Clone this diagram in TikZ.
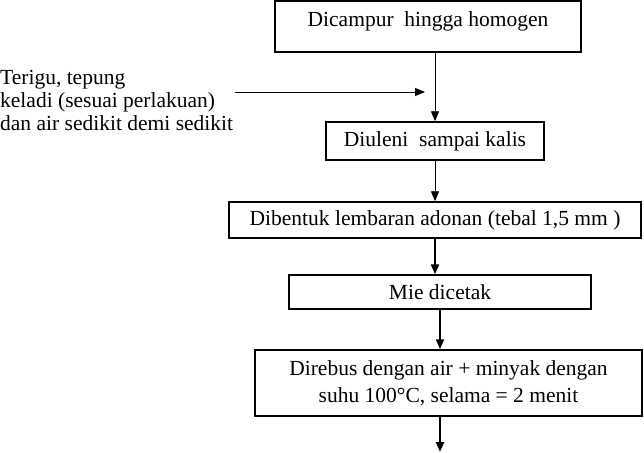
\documentclass[tikz,border=0pt]{standalone}
\usepackage{fontspec}
\setmainfont{Liberation Serif}
\usepackage{tikz}
\usetikzlibrary{arrows.meta}
\tikzset{langkah/.style={draw,rectangle,line width=1.5pt,inner sep=0pt,align=center},
	tipis/.style={line width=0.9pt},
	tebal/.style={line width=2.2pt}}

\begin{document}
\begin{tikzpicture}[x=1pt,y=-1pt,font=\fontsize{21.5}{23}\selectfont]
		\useasboundingbox (0,0) rectangle (644,452);
		\begin{scope}[every node/.style={langkah}]
			\node[minimum width=306pt,minimum height=51pt,text depth=14pt] (campur) at (428,26.5) {Dicampur~ hingga homogen};
			\node[minimum width=218pt,minimum height=38pt] (uleni) at (435,141) {Diuleni~ sampai kalis};
			\node[minimum width=412pt,minimum height=36pt] (bentuk) at (435,220) {Dibentuk lembaran adonan (tebal 1,5 mm )};
			\node[minimum width=302pt,minimum height=34pt] (cetak) at (440,292) {Mie dicetak};
			\node[minimum width=387pt,minimum height=66pt] (rebus) at (448.5,383) {Direbus dengan air + minyak dengan\\[4pt]suhu 100°C, selama = 2 menit};
		\end{scope}
		\node[anchor=north west,inner sep=0pt,align=left] (bahan) at (0,70) {Terigu, tepung\\keladi (sesuai perlakuan)\\dan air sedikit demi sedikit};
		\coordinate (masuk) at (425,92);
		\coordinate (akhir) at (440,452);
		\begin{scope}[>={Triangle[length=10pt,width=8pt]}]
			\path [->,tipis] (bahan.east |- masuk) ++(2,0) edge (masuk);
			\path [->,tipis] (uleni.north |- campur.south) edge (uleni.north);
			\path [->,tipis] (uleni.south -| bentuk.north) edge (bentuk.north);
			\path [->,tebal] (bentuk.south) edge (bentuk.south |- cetak.north);
			\path [->,tebal] (cetak.south) edge (cetak.south |- rebus.north);
			\path [->,tebal] (rebus.south -| akhir) edge (akhir);
		\end{scope}
	\end{tikzpicture}
\end{document}
